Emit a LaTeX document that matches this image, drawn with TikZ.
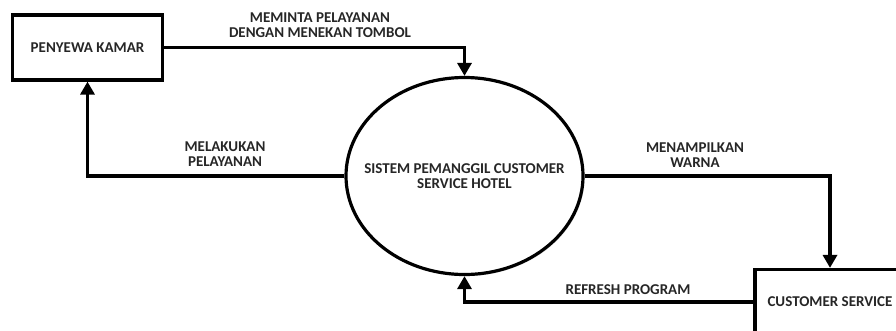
\documentclass[tikz,border=0pt]{standalone}
\usepackage{fontspec}
\setmainfont{Carlito}
\usepackage{tikz}
\usetikzlibrary{arrows.meta, shapes.geometric, shadows}

\tikzset{
    entitas/.style={draw, line width=3.2pt, fill=white, inner sep=0pt,
        minimum width=150pt, minimum height=65pt,
        drop shadow={opacity=0.25, shadow xshift=1.5pt, shadow yshift=-1.5pt}},
    proses/.style={ellipse, draw, line width=3.2pt, fill=white,
        inner xsep=-30pt, inner ysep=0pt,
        minimum width=237pt, minimum height=197pt, align=center,
        drop shadow={opacity=0.25, shadow xshift=1.5pt, shadow yshift=-1.5pt}},
    alur/.style={line width=3.2pt, -{Triangle[length=13pt, width=14pt]}},
    label/.style={align=center, text=black!85, inner sep=0pt}
}

\begin{document}
\begin{tikzpicture}[x=1pt, y=-1pt, font=\fontsize{15}{15}\selectfont\bfseries]
    % 1. Batas gambar
    \useasboundingbox (0,0) rectangle (896,330);
    \clip (0,0) rectangle (896,330);

    % 2. Entitas dan proses
    \node[entitas] (penyewa) at (87.5,47.5) {\textcolor{black!85}{PENYEWA KAMAR}};
    \node[proses] (sistem) at (464.5,176) {\textcolor{black!85}{SISTEM PEMANGGIL CUSTOMER}\\\textcolor{black!85}{SERVICE HOTEL}};
    \node[entitas] (cs) at (830,302) {\textcolor{black!85}{CUSTOMER SERVICE}};

    % 3. Aliran data
    \draw[alur] (penyewa.east) -| (sistem.north);
    \draw[alur] (sistem.west) -| (penyewa.south);
    \draw[alur] (sistem.east) -| (cs.north);
    \draw[alur] (cs.west) -| (sistem.south);

    % 4. Label aliran
    \node[label] (lbl1) at (320,25.5) {MEMINTA PELAYANAN\\DENGAN MENEKAN TOMBOL};
    \node[label] (lbl2) at (225,154) {MELAKUKAN\\PELAYANAN};
    \node[label] (lbl3) at (695,155) {MENAMPILKAN\\WARNA};
    \node[label] (lbl4) at (628,290) {REFRESH PROGRAM};
\end{tikzpicture}
\end{document}
